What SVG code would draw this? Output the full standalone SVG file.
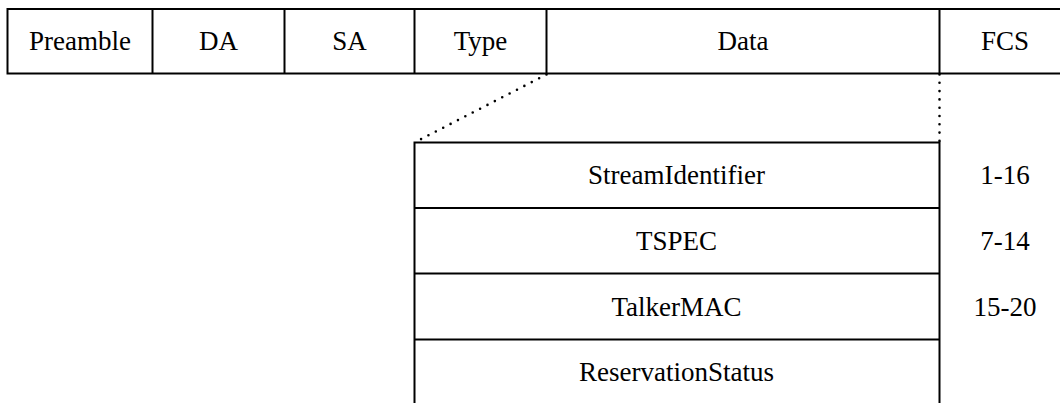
<svg xmlns="http://www.w3.org/2000/svg" width="1060" height="403" viewBox="0 0 1060 403">
  <style>
    .frame { fill: none; stroke: #000; stroke-width: 2; }
    .rule { stroke: #000; stroke-width: 2; }
    .dots { fill: none; stroke: #000; stroke-width: 2.6; stroke-linecap: round; stroke-dasharray: 0 8.3; }
    .lbl { font-family: "Liberation Serif", "Times New Roman", serif; font-size: 27px; fill: #000; text-anchor: middle; }
  </style>
  <rect width="1060" height="403" fill="#fff"/>

  <!-- Ethernet frame fields -->
  <g id="frame">
    <rect class="frame" x="7.5" y="9" width="1070" height="64.5"/>
    <line class="rule" x1="152.5" y1="9" x2="152.5" y2="73.5"/>
    <line class="rule" x1="284.5" y1="9" x2="284.5" y2="73.5"/>
    <line class="rule" x1="414.5" y1="9" x2="414.5" y2="73.5"/>
    <line class="rule" x1="546.5" y1="9" x2="546.5" y2="73.5"/>
    <line class="rule" x1="939.5" y1="9" x2="939.5" y2="73.5"/>
  </g>
  <g id="preamble"><text class="lbl" x="80" y="49.5">Preamble</text></g>
  <g id="da"><text class="lbl" x="218.5" y="49.5">DA</text></g>
  <g id="sa"><text class="lbl" x="349.5" y="49.5">SA</text></g>
  <g id="type"><text class="lbl" x="480.5" y="49.5">Type</text></g>
  <g id="data"><text class="lbl" x="743" y="49.5">Data</text></g>
  <g id="fcs"><text class="lbl" x="1005" y="49.5">FCS</text></g>

  <!-- expansion of the Data field -->
  <g id="connectors">
    <line class="dots" x1="546.5" y1="74.5" x2="414.5" y2="142.5"/>
    <line class="dots" x1="939.5" y1="74.5" x2="939.5" y2="142.5"/>
  </g>

  <!-- Data payload fields -->
  <g id="payload">
    <rect class="frame" x="414.5" y="142.5" width="525" height="280"/>
    <line class="rule" x1="414.5" y1="208" x2="939.5" y2="208"/>
    <line class="rule" x1="414.5" y1="273.5" x2="939.5" y2="273.5"/>
    <line class="rule" x1="414.5" y1="339.5" x2="939.5" y2="339.5"/>
  </g>
  <g id="stream-identifier">
    <text class="lbl" x="676.5" y="184">StreamIdentifier</text>
    <text class="lbl" x="1005" y="184">1-16</text>
  </g>
  <g id="tspec">
    <text class="lbl" x="676.5" y="249.5">TSPEC</text>
    <text class="lbl" x="1005" y="249.5">7-14</text>
  </g>
  <g id="talker-mac">
    <text class="lbl" x="676.5" y="315.5">TalkerMAC</text>
    <text class="lbl" x="1005" y="315.5">15-20</text>
  </g>
  <g id="reservation-status">
    <text class="lbl" x="676.5" y="381">ReservationStatus</text>
  </g>
</svg>
